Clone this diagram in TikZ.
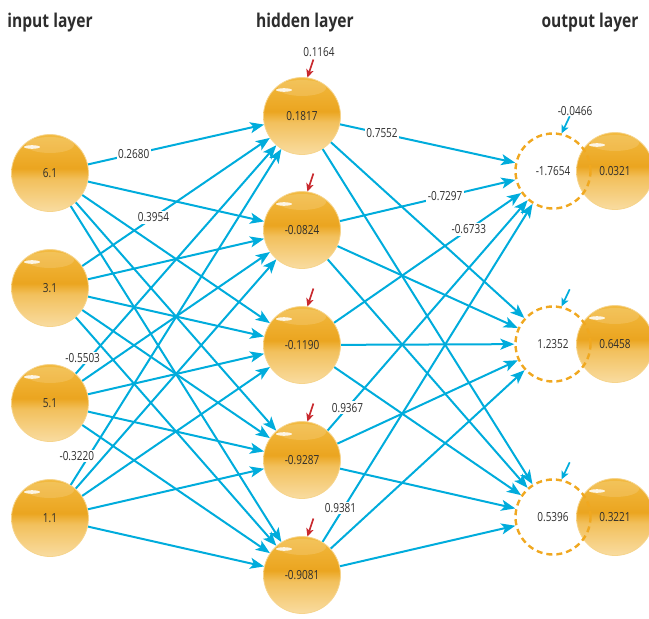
\documentclass[tikz,border=0pt]{standalone}
\usepackage{fontspec}
\usetikzlibrary{arrows.meta,calc}
\newfontfamily\numfont{Open Sans}[FakeStretch=0.8]
\newfontfamily\headfont{Open Sans}[FakeStretch=0.82]

\definecolor{wire}{RGB}{0,172,220}
\definecolor{biasred}{RGB}{200,40,45}
\definecolor{txt}{RGB}{45,45,45}
\definecolor{ringorange}{RGB}{240,168,32}
\definecolor{ballA}{RGB}{242,186,64}
\definecolor{ballM}{RGB}{235,165,32}
\definecolor{ballL}{RGB}{242,192,92}
\definecolor{ballC}{RGB}{249,220,160}
\definecolor{ballrim}{RGB}{246,212,140}

% golden sphere: darker band just above the middle, pale towards the bottom
\pgfdeclareverticalshading{ballshade}{100bp}{color(0bp)=(ballC); color(25bp)=(ballC); color(46bp)=(ballL); color(53bp)=(ballM); color(75bp)=(ballA); color(100bp)=(ballA)}

\pgfdeclarelayer{back}
\pgfsetlayers{back,main}

\tikzset{
  numtext/.style={font=\numfont\fontsize{12.5}{14}\selectfont, text=txt},
  ball/.style={circle, minimum size=77pt, inner sep=0pt, shading=ballshade,
    draw=ballrim, line width=0.8pt, numtext,
    path picture={
      \fill[white,opacity=0.14] ([yshift=28pt]path picture bounding box.center) ellipse (24pt and 8pt);
      \fill[white,opacity=0.85,rotate around={25:([xshift=-18pt,yshift=26pt]path picture bounding box.center)}]
        ([xshift=-18pt,yshift=26pt]path picture bounding box.center) ellipse (8pt and 1.8pt);
    }},
  sumring/.style={circle, minimum size=75pt, inner sep=0pt, draw=ringorange,
    line width=2.4pt, dash pattern=on 6pt off 4pt, numtext},
  head/.style={font=\headfont\bfseries\fontsize{19}{22}\selectfont, text=txt, anchor=base},
  wlabel/.style={fill=white, inner sep=1.5pt, numtext},
  plainlabel/.style={inner sep=0pt, numtext},
  link/.style={draw=wire, line width=2pt, -{Stealth[length=14pt,width=11pt,inset=3.5pt]}},
  biasin/.style={line width=1.7pt, -{Stealth[length=8pt,width=7.5pt,inset=2pt]}},
}

\begin{document}
\begin{tikzpicture}[x=1pt,y=-1pt]
\useasboundingbox (0,0) rectangle (649,619);

% layer headings
\node[head] (tin)  at (50,27)  {input layer};
\node[head] (thid) at (305,27) {hidden layer};
\node[head] (tout) at (590,27) {output layer};

% input neurons
\node[ball] (i1) at (50,173) {6.1};
\node[ball] (i2) at (50,288) {3.1};
\node[ball] (i3) at (50,403) {5.1};
\node[ball] (i4) at (50,518) {1.1};

% hidden neurons
\node[ball] (h1) at (302,116) {0.1817};
\node[ball] (h2) at (302,230) {-0.0824};
\node[ball] (h3) at (302,345) {-0.1190};
\node[ball] (h4) at (302,460) {-0.9287};
\node[ball] (h5) at (302,575) {-0.9081};

% output neurons: activation ball with the weighted sum ring on top
\node[ball] (b1) at (615,171) {0.0321};
\node[ball] (b2) at (615,344) {0.6458};
\node[ball] (b3) at (615,517) {0.3221};
\node[sumring] (o1) at (553,171) {-1.7654};
\node[sumring] (o2) at (553,344) {1.2352};
\node[sumring] (o3) at (553,517) {0.5396};

% bias arrows
\foreach \h in {h1,h2,h3,h4,h5}
  \draw[biasin, draw=biasred] ($(\h.82)+(6,-18)$) -- (\h.82);
\node[plainlabel] (bh1) at (319,52) {0.1164};
\foreach \o in {o1,o2,o3}
  \draw[biasin, draw=wire] ($(\o.77)+(8,-17)$) -- (\o.77);
\node[plainlabel] (bo1) at (575,111) {-0.0466};

\begin{pgfonlayer}{back}
  % fully connected weights
  \foreach \i in {i1,i2,i3,i4}
    \foreach \h in {h1,h2,h3,h4,h5}
      \draw[link] (\i) -- (\h);
  \foreach \h in {h1,h2,h3,h4,h5}
    \foreach \o in {o1,o2,o3}
      \draw[link] (\h) -- (\o);

  % weight labels
  \path (i1) -- (h1) node[wlabel, pos=0.26] (w11) {0.2680};
  \path (i2) -- (h1) node[wlabel, pos=0.38] (w21) {0.3954};
  \path (i3) -- (h1) node[wlabel, pos=0.07, xshift=-7pt] (w31) {-0.5503};
  \path (i4) -- (h1) node[wlabel, pos=0.086, xshift=-12pt] (w41) {-0.3220};
  \path (h1) -- (o1) node[wlabel, pos=0.24] (v11) {0.7552};
  \path (h2) -- (o1) node[wlabel, pos=0.60] (v21) {-0.7297};
  \path (h3) -- (o1) node[wlabel, pos=0.72] (v31) {-0.6733};
  \path (h4) -- (o1) node[wlabel, pos=0.10] (v41) {0.9367};
  \path (h5) -- (o1) node[wlabel, pos=0.10, xshift=-3pt] (v51) {0.9381};
\end{pgfonlayer}
\end{tikzpicture}
\end{document}
